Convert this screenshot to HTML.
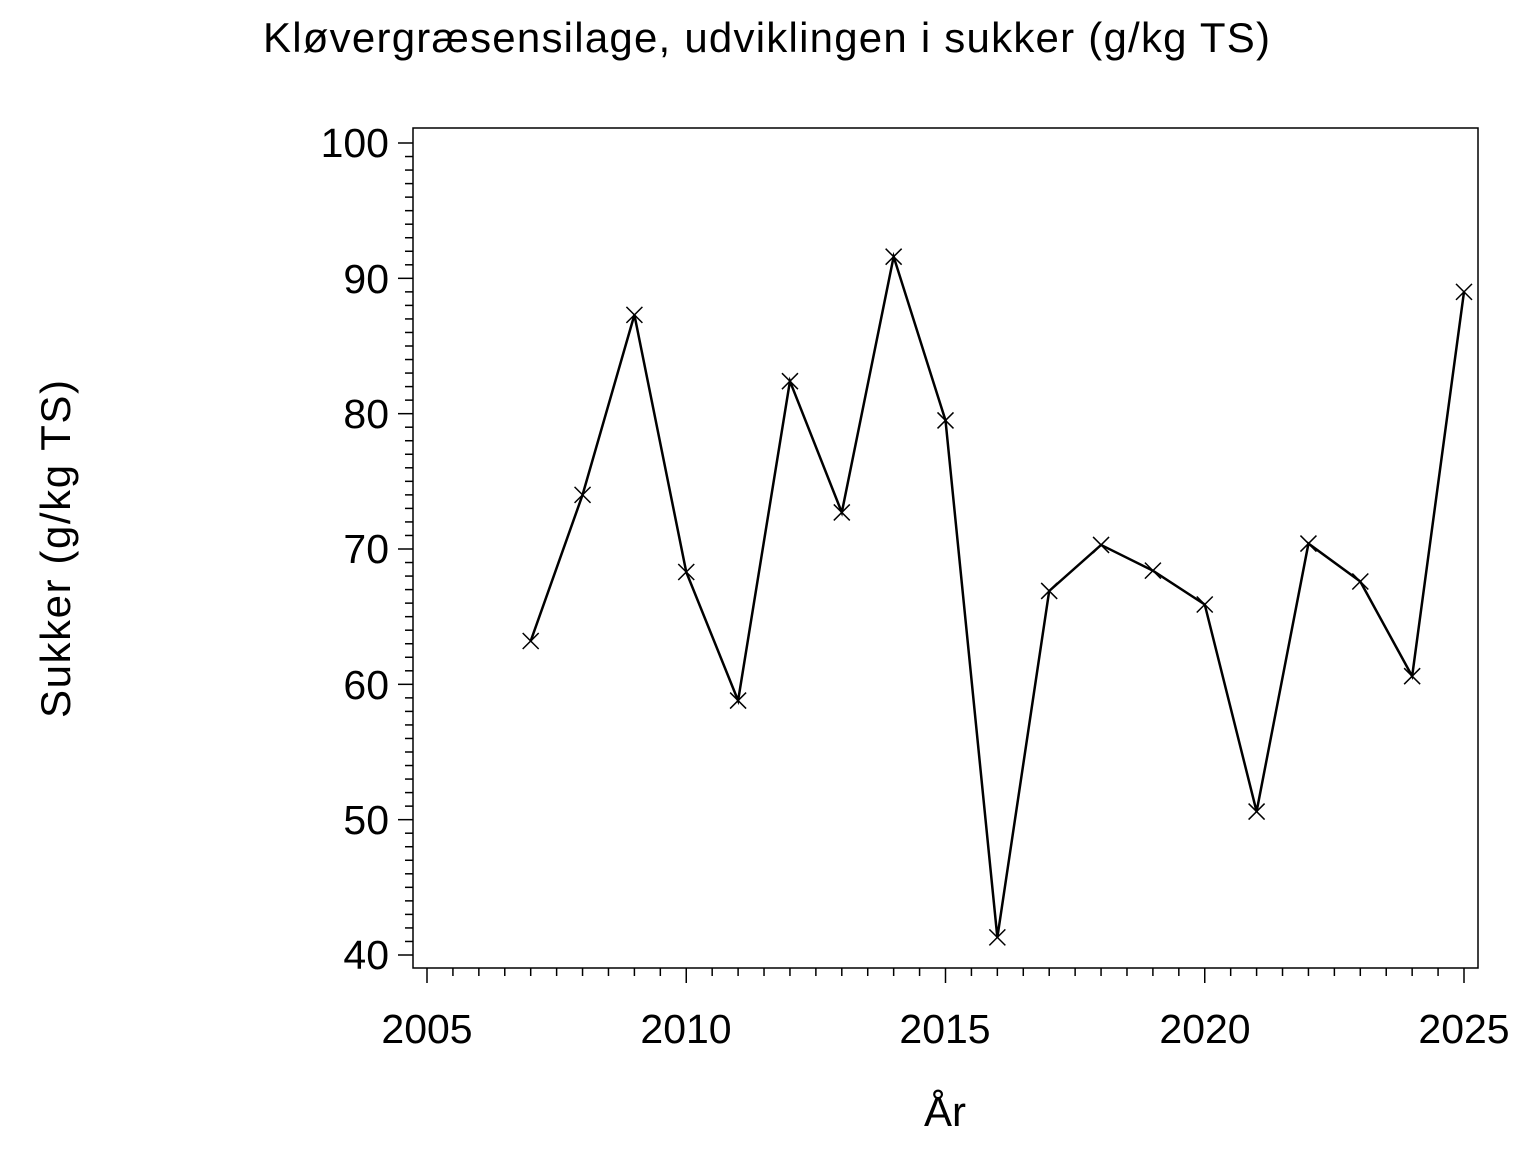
<!DOCTYPE html>
<html><head><meta charset="utf-8"><style>body{margin:0;background:#fff}svg{display:block}</style></head><body>
<svg width="1536" height="1152" xmlns="http://www.w3.org/2000/svg" font-family="Liberation Sans, Arial, sans-serif">
<text x="263" y="52" font-size="42" textLength="1007" lengthAdjust="spacing">Kløvergræsensilage,  udviklingen  i  sukker  (g/kg  TS)</text>
<rect x="413" y="128" width="1065" height="840" fill="none" stroke="#000" stroke-width="1.5"/>
<g stroke="#000" stroke-width="1.5" id="yt"></g>
<g stroke="#000" stroke-width="1.5" id="xt"></g>
<g font-size="41" text-anchor="end">
<text x="389" y="157">100</text><text x="389" y="293">90</text><text x="389" y="428">80</text><text x="389" y="563">70</text><text x="389" y="699">60</text><text x="389" y="834">50</text><text x="389" y="969">40</text>
</g>
<g font-size="41" text-anchor="middle">
<text x="427" y="1043">2005</text><text x="686" y="1043">2010</text><text x="945" y="1043">2015</text><text x="1205" y="1043">2020</text><text x="1464" y="1043">2025</text>
</g>
<text x="945" y="1126" font-size="42" text-anchor="middle">År</text>
<text transform="translate(70,718) rotate(-90)" font-size="42" textLength="338" lengthAdjust="spacing">Sukker  (g/kg  TS)</text>
<polyline id="ln" fill="none" stroke="#000" stroke-width="2.5" points=""/>
<g id="mk" stroke="#000" stroke-width="1.5"></g>
<script>
var ns="http://www.w3.org/2000/svg";
function L(g,x1,y1,x2,y2){var l=document.createElementNS(ns,"line");l.setAttribute("x1",x1);l.setAttribute("y1",y1);l.setAttribute("x2",x2);l.setAttribute("y2",y2);document.getElementById(g).appendChild(l);}
for(var v=40;v<=100;v++){var y=955-(v-40)*812/60;L("yt",v%10==0?398:405,y,413,y);}
for(var i=0;i<=40;i++){var x=427+i*1037/40;L("xt",x,968,x,i%10==0?983:976);}
var d=[[2007,63.2],[2008,74],[2009,87.3],[2010,68.3],[2011,58.8],[2012,82.4],[2013,72.7],[2014,91.6],[2015,79.5],[2016,41.3],[2017,66.9],[2018,70.3],[2019,68.4],[2020,65.9],[2021,50.6],[2022,70.4],[2023,67.6],[2024,60.6],[2025,89]];
var p=[];d.forEach(function(a){var x=427+(a[0]-2005)*1037/20,y=955-(a[1]-40)*812/60;p.push(x+","+y);L("mk",x-8,y-8,x+8,y+8);L("mk",x-8,y+8,x+8,y-8);});
document.getElementById("ln").setAttribute("points",p.join(" "));
</script>
</svg></body></html>
